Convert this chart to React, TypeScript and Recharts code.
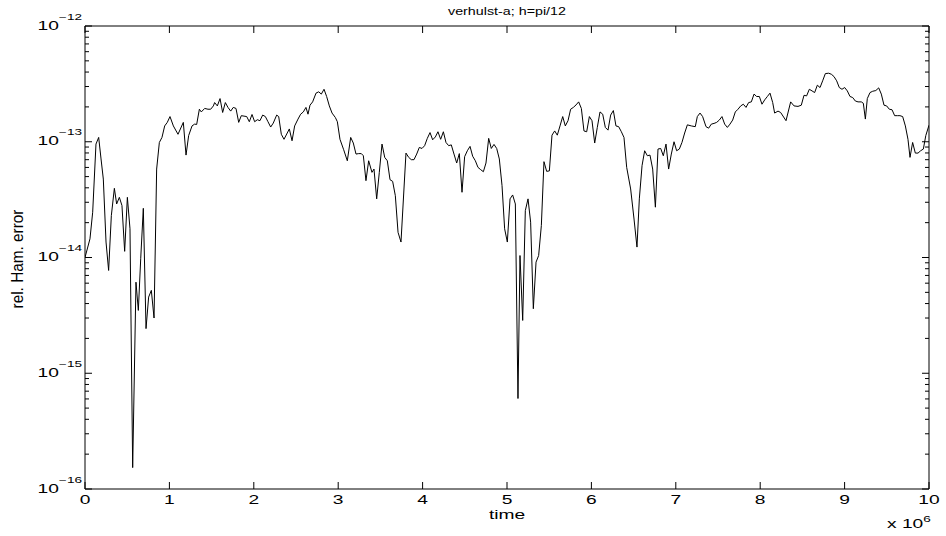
import { LineChart, Line, XAxis, YAxis } from 'recharts';

// time in units of 10^6
const timeMillions = [
  0, 0.059, 0.091, 0.13, 0.162, 0.19, 0.217, 0.249, 0.28, 0.312, 0.348, 0.375, 0.407, 0.438, 0.47, 0.502,
  0.533, 0.565, 0.604, 0.632, 0.66, 0.691, 0.723, 0.754, 0.786, 0.818, 0.849, 0.881, 0.912, 0.944, 0.975,
  1.007, 1.047, 1.102, 1.165, 1.197, 1.228, 1.268, 1.299, 1.323, 1.355, 1.378, 1.418, 1.457, 1.489, 1.521,
  1.536, 1.568, 1.6, 1.631, 1.663, 1.694, 1.726, 1.757, 1.789, 1.821, 1.852, 1.916, 1.947, 1.979,
  2.01, 2.042, 2.073, 2.105, 2.137, 2.168, 2.2, 2.231, 2.271, 2.295, 2.326, 2.358, 2.421, 2.453, 2.484,
  2.524, 2.555, 2.587, 2.618, 2.642, 2.666, 2.697, 2.737, 2.769, 2.8, 2.832, 2.863, 2.895, 2.927, 2.966, 2.99,
  3.021, 3.065, 3.108, 3.148, 3.179, 3.211, 3.243, 3.274, 3.298, 3.329, 3.361, 3.4, 3.424, 3.456, 3.487,
  3.519, 3.551, 3.582, 3.614, 3.645, 3.677, 3.709, 3.744, 3.803, 3.835, 3.866, 3.898, 3.93, 3.961, 3.993,
  4.024, 4.056, 4.088, 4.119, 4.151, 4.182, 4.214, 4.246, 4.277, 4.309, 4.34, 4.372, 4.404, 4.435, 4.467,
  4.498, 4.53, 4.562, 4.593, 4.625, 4.656, 4.688, 4.72, 4.751, 4.783, 4.814, 4.846, 4.878, 4.909, 4.941, 4.972,
  5.004, 5.036, 5.067, 5.099, 5.13, 5.154, 5.186, 5.217, 5.249, 5.28, 5.312, 5.344, 5.375, 5.407, 5.438,
  5.47, 5.502, 5.533, 5.565, 5.596, 5.628, 5.66, 5.691, 5.723, 5.754, 5.786, 5.818, 5.849, 5.881, 5.912, 5.944, 5.976,
  6.007, 6.039, 6.07, 6.102, 6.134, 6.165, 6.197, 6.228, 6.26, 6.291, 6.323, 6.355, 6.386, 6.418, 6.465,
  6.505, 6.54, 6.568, 6.6, 6.631, 6.663, 6.694, 6.726, 6.758, 6.789, 6.821, 6.852, 6.884, 6.915, 6.947, 6.979,
  7.01, 7.042, 7.073, 7.105, 7.137, 7.184, 7.231, 7.255, 7.287, 7.318, 7.358, 7.389, 7.421, 7.453, 7.484,
  7.516, 7.547, 7.579, 7.611, 7.642, 7.674, 7.705, 7.737, 7.769, 7.8, 7.832, 7.863, 7.895, 7.927, 7.958, 7.99,
  8.021, 8.053, 8.085, 8.116, 8.148, 8.171, 8.211, 8.242, 8.306, 8.361, 8.401, 8.448, 8.487, 8.519, 8.55,
  8.582, 8.614, 8.645, 8.677, 8.709, 8.74, 8.772, 8.811, 8.843, 8.874, 8.906, 8.937, 8.969,
  9.001, 9.032, 9.064, 9.096, 9.127, 9.159, 9.198, 9.222, 9.246, 9.269, 9.301, 9.333, 9.37, 9.404, 9.435,
  9.467, 9.498, 9.53, 9.562, 9.593, 9.625, 9.656, 9.688, 9.72, 9.751, 9.775, 9.806, 9.838, 9.87, 9.901, 9.933,
  9.962, 10,
];

const relHamError = [
  1.0e-14, 1.45e-14, 2.46e-14, 9.55e-14, 1.09e-13, 7.1e-14, 4.76e-14, 1.36e-14, 7.73e-15, 2.3e-14, 3.96e-14, 2.9e-14, 3.31e-14, 2.81e-14, 1.13e-14, 3.31e-14,
  1.77e-14, 1.53e-16, 6.12e-15, 3.49e-15, 9.75e-15, 2.66e-14, 2.43e-15, 4.55e-15, 5.2e-15, 3.0e-15, 5.81e-14, 9.86e-14, 1.09e-13, 1.37e-13, 1.47e-13,
  1.65e-13, 1.37e-13, 1.16e-13, 1.47e-13, 7.67e-14, 1.13e-13, 1.37e-13, 1.42e-13, 1.41e-13, 1.91e-13, 1.81e-13, 1.94e-13, 1.91e-13, 1.91e-13, 2.04e-13,
  2.18e-13, 2.04e-13, 2.36e-13, 1.79e-13, 2.18e-13, 1.98e-13, 1.84e-13, 1.98e-13, 1.94e-13, 1.47e-13, 1.68e-13, 1.65e-13, 1.49e-13, 1.72e-13,
  1.49e-13, 1.55e-13, 1.52e-13, 1.7e-13, 1.65e-13, 1.49e-13, 1.34e-13, 1.45e-13, 1.7e-13, 1.65e-13, 1.16e-13, 1.05e-13, 1.29e-13, 1.02e-13, 1.37e-13,
  1.57e-13, 1.73e-13, 1.81e-13, 1.98e-13, 1.73e-13, 2.07e-13, 2.21e-13, 2.63e-13, 2.7e-13, 2.58e-13, 2.84e-13, 2.46e-13, 2.04e-13, 1.77e-13, 1.62e-13, 1.49e-13,
  1.05e-13, 8.53e-14, 6.85e-14, 1.09e-13, 9.75e-14, 7.83e-14, 7.9e-14, 7.9e-14, 7.57e-14, 4.61e-14, 6.85e-14, 5.44e-14, 5.81e-14, 3.21e-14, 5.44e-14,
  9.55e-14, 7.33e-14, 6.85e-14, 4.7e-14, 4.55e-14, 3.42e-14, 1.65e-14, 1.36e-14, 7.98e-14, 7.33e-14, 7.0e-14, 7.0e-14, 7.83e-14, 8.93e-14, 8.75e-14,
  9.25e-14, 1.07e-13, 1.2e-13, 1.04e-13, 1.1e-13, 1.22e-13, 1.05e-13, 1.22e-13, 9.86e-14, 9.25e-14, 9.4e-14, 7.83e-14, 6.55e-14, 7.9e-14, 3.66e-14,
  7.43e-14, 8.36e-14, 9.12e-14, 7.5e-14, 6.85e-14, 6.01e-14, 5.74e-14, 5.51e-14, 6.55e-14, 1.07e-13, 8.75e-14, 9.48e-14, 8.75e-14, 7.1e-14, 4.18e-14, 1.77e-14,
  1.36e-14, 3.21e-14, 3.47e-14, 2.9e-14, 6.05e-16, 1.04e-14, 2.86e-15, 2.54e-14, 3.21e-14, 2.02e-14, 3.61e-15, 9.12e-15, 1.04e-14, 1.89e-14, 6.73e-14,
  5.55e-14, 5.6e-14, 1.14e-13, 1.24e-13, 1.14e-13, 1.37e-13, 1.65e-13, 1.37e-13, 1.52e-13, 1.91e-13, 1.98e-13, 2.08e-13, 2.21e-13, 1.94e-13, 1.24e-13, 1.22e-13, 1.65e-13,
  1.52e-13, 9.75e-14, 1.33e-13, 1.81e-13, 1.73e-13, 1.33e-13, 1.26e-13, 1.7e-13, 1.86e-13, 1.37e-13, 1.35e-13, 1.22e-13, 1.09e-13, 6.01e-14, 3.91e-14,
  2.15e-14, 1.23e-14, 3.21e-14, 6.21e-14, 8.36e-14, 7.57e-14, 7.67e-14, 5.81e-14, 2.72e-14, 8.65e-14, 8.75e-14, 7.57e-14, 9.55e-14, 5.81e-14, 7.83e-14, 1.0e-13,
  8.36e-14, 8.65e-14, 9.86e-14, 1.19e-13, 1.4e-13, 1.37e-13, 1.35e-13, 1.65e-13, 1.77e-13, 1.65e-13, 1.35e-13, 1.31e-13, 1.42e-13, 1.44e-13, 1.47e-13,
  1.54e-13, 1.65e-13, 1.42e-13, 1.33e-13, 1.42e-13, 1.54e-13, 1.81e-13, 1.91e-13, 2.04e-13, 2.11e-13, 1.98e-13, 2.18e-13, 2.21e-13, 2.58e-13, 2.46e-13, 2.46e-13,
  2.11e-13, 2.3e-13, 2.46e-13, 2.63e-13, 2.18e-13, 1.77e-13, 1.84e-13, 1.79e-13, 1.52e-13, 2.21e-13, 2.04e-13, 2.02e-13, 2.07e-13, 2.52e-13, 2.49e-13,
  2.84e-13, 2.75e-13, 2.66e-13, 3.08e-13, 2.94e-13, 3.36e-13, 3.88e-13, 3.91e-13, 3.83e-13, 3.66e-13, 3.36e-13, 2.94e-13, 2.84e-13,
  2.94e-13, 2.75e-13, 2.46e-13, 2.41e-13, 2.25e-13, 2.21e-13, 2.21e-13, 2.15e-13, 1.57e-13, 2.36e-13, 2.66e-13, 2.73e-13, 2.77e-13, 2.92e-13, 2.58e-13,
  2.07e-13, 2.04e-13, 1.91e-13, 1.89e-13, 1.68e-13, 1.68e-13, 1.68e-13, 1.65e-13, 1.37e-13, 1.05e-13, 7.33e-14, 9.86e-14, 7.98e-14, 7.98e-14, 8.36e-14, 8.65e-14,
  1.13e-13, 1.39e-13,
];

const xTicks = [0, 1, 2, 3, 4, 5, 6, 7, 8, 9, 10];
const decadeTicks = [1e-16, 1e-15, 1e-14, 1e-13, 1e-12];
const minorSteps = [2, 3, 4, 5, 6, 7, 8, 9];

const data = timeMillions.map((t, i) => ({ t, err: relHamError[i] }));
const yTicks = [
  ...decadeTicks,
  ...decadeTicks.slice(0, -1).flatMap((d) => minorSteps.map((m) => m * d)),
];

const FONT = '"Liberation Sans", Arial, Helvetica, sans-serif';
// the source figure was stretched sideways, so the text is too
const STRETCH = 1.6;

const isDecade = (v: number) => Math.abs(Math.log10(v) - Math.round(Math.log10(v))) < 1e-6;

function LeftTick({ x, y, payload }: any) {
  const v = payload.value;
  const major = isDecade(v);
  const exp = Math.round(Math.log10(v));
  return (
    <g>
      <line x1={x} y1={y} x2={x + (major ? 7 : 4)} y2={y} stroke="#000" />
      {major && (
        <text
          transform={`translate(${x - 3},${y + 3.5}) scale(${STRETCH},1)`}
          textAnchor="end"
          fontFamily={FONT}
          fontSize={12}
          fill="#000"
        >
          10
          <tspan dy={-10} fontSize={8.5}>{`\u2212${-exp}`}</tspan>
        </text>
      )}
    </g>
  );
}

function RightTick({ x, y, payload }: any) {
  const major = isDecade(payload.value);
  return <line x1={x} y1={y} x2={x - (major ? 7 : 4)} y2={y} stroke="#000" />;
}

function BottomTick({ x, y, payload }: any) {
  return (
    <g>
      <line x1={x} y1={y} x2={x} y2={y - 7} stroke="#000" />
      <text
        transform={`translate(${x},${y + 15.4}) scale(${STRETCH},1)`}
        textAnchor="middle"
        fontFamily={FONT}
        fontSize={12}
        fill="#000"
      >
        {payload.value}
      </text>
    </g>
  );
}

function TopTick({ x, y }: any) {
  return <line x1={x} y1={y} x2={x} y2={y + 7} stroke="#000" />;
}

export default function App() {
  const axisLine = { stroke: '#000', strokeWidth: 1 };
  return (
    <div style={{ position: 'absolute', left: 0, top: 0, width: 946, height: 536, background: '#fff' }}>
      <LineChart width={946} height={536} data={data} margin={{ top: 16, right: 7, bottom: 17, left: 25 }}>
        <XAxis
          xAxisId="bottom"
          dataKey="t"
          type="number"
          domain={[0, 10]}
          allowDataOverflow
          ticks={xTicks}
          interval={0}
          tickSize={0}
          tickMargin={0}
          tickLine={false}
          axisLine={axisLine}
          tick={BottomTick}
          height={30}
        />
        <XAxis
          xAxisId="top"
          orientation="top"
          dataKey="t"
          type="number"
          domain={[0, 10]}
          allowDataOverflow
          ticks={xTicks}
          interval={0}
          tickSize={0}
          tickMargin={0}
          tickLine={false}
          axisLine={axisLine}
          tick={TopTick}
          height={10}
        />
        <YAxis
          yAxisId="left"
          type="number"
          scale="log"
          domain={[1e-16, 1e-12]}
          allowDataOverflow
          ticks={yTicks}
          interval={0}
          tickSize={0}
          tickMargin={0}
          tickLine={false}
          axisLine={axisLine}
          tick={LeftTick}
          width={60}
        />
        <YAxis
          yAxisId="right"
          orientation="right"
          type="number"
          scale="log"
          domain={[1e-16, 1e-12]}
          allowDataOverflow
          ticks={yTicks}
          interval={0}
          tickSize={0}
          tickMargin={0}
          tickLine={false}
          axisLine={axisLine}
          tick={RightTick}
          width={10}
        />
        <Line
          xAxisId="bottom"
          yAxisId="left"
          dataKey="err"
          type="linear"
          stroke="#000"
          strokeWidth={1}
          dot={false}
          isAnimationActive={false}
        />
      </LineChart>
      <svg
        width={946}
        height={536}
        style={{ position: 'absolute', left: 0, top: 0, pointerEvents: 'none' }}
        fontFamily={FONT}
        fill="#000"
      >
        <text transform="translate(507,15) scale(1.3,1)" textAnchor="middle" fontSize={11}>
          verhulst-a; h=pi/12
        </text>
        <text transform={`translate(507,519) scale(${STRETCH},1)`} textAnchor="middle" fontSize={12}>
          time
        </text>
        <text transform="translate(23,259) rotate(-90) scale(1.28,1.3)" textAnchor="middle" fontSize={12}>
          rel. Ham. error
        </text>
        <text transform={`translate(887,528) scale(${STRETCH},1)`} fontSize={12}>
          x 10
          <tspan dy={-6} fontSize={8.5}>6</tspan>
        </text>
      </svg>
    </div>
  );
}
